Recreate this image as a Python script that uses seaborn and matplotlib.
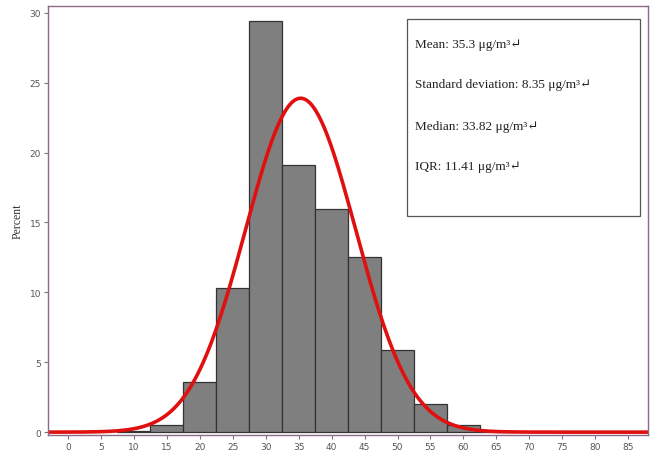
import numpy as np
import pandas as pd
import matplotlib
matplotlib.use("Agg")
import matplotlib.pyplot as plt
import seaborn as sns
from matplotlib.patches import Rectangle

# ==========================================
# Data
# ==========================================
bin_centers = [10, 15, 20, 25, 30, 35, 40, 45, 50, 55, 60, 65]
percents = [0.1, 0.5, 3.6, 10.3, 29.4, 19.1, 16.0, 12.5, 5.9, 2.0, 0.5, 0.05]
bin_edges = [7.5 + 5 * i for i in range(len(bin_centers) + 1)]

mean_val = 35.3
sd_val = 8.35
stats_lines = [
    "Mean: 35.3 \u03bcg/m\u00b3\u21b5",
    "Standard deviation: 8.35 \u03bcg/m\u00b3\u21b5",
    "Median: 33.82 \u03bcg/m\u00b3\u21b5",
    "IQR: 11.41 \u03bcg/m\u00b3\u21b5",
]

x_ticks = list(range(0, 90, 5))
y_ticks = list(range(0, 35, 5))

df = pd.DataFrame({"pm": bin_centers, "pct": percents})

# fitted normal curve, in percent per 5-unit bin
curve_x = np.linspace(-3, 88, 400)
curve_y = 100 * 5 / (sd_val * np.sqrt(2 * np.pi)) * np.exp(-0.5 * ((curve_x - mean_val) / sd_val) ** 2)
curve = pd.DataFrame({"x": curve_x, "y": curve_y})

# ==========================================
# Plot
# ==========================================
sns.set_style("white")
spine_col = "#8a6a88"

fig = plt.figure(figsize=(6.5, 4.56), dpi=100)
ax = fig.add_axes([0.074, 0.044, 0.923, 0.941])

sns.histplot(data=df, x="pm", weights="pct", bins=bin_edges, stat="count",
             color="#7f7f7f", edgecolor="#333333", linewidth=0.9, alpha=1, ax=ax)
sns.lineplot(data=curve, x="x", y="y", color="#e01010", linewidth=2.6, ax=ax)

ax.set_xlim(-3, 88)
ax.set_ylim(-0.2, 30.5)
ax.set_xticks(x_ticks)
ax.set_yticks(y_ticks)
ax.set_xlabel("")
ax.set_ylabel("Percent", family=["Liberation Serif"], fontsize=8.5, color="#333333")
ax.tick_params(axis="both", labelsize=6.5, colors="#555555", length=3, width=0.8,
               pad=2, color=spine_col, bottom=True, left=True)
for s in ax.spines.values():
    s.set_color(spine_col)
    s.set_linewidth(1.0)

# stats box
ax.add_patch(Rectangle((0.598, 0.510), 0.389, 0.460, transform=ax.transAxes,
                       fill=True, facecolor="white", edgecolor="#555555",
                       linewidth=0.9, zorder=5))
line_y = [0.912, 0.819, 0.719, 0.626]
for txt, yy in zip(stats_lines, line_y):
    ax.text(0.612, yy, txt, transform=ax.transAxes, fontsize=9.5,
            family=["Liberation Serif", "DejaVu Serif"], color="#222222",
            va="center", ha="left", zorder=6)

fig.savefig("out.png", dpi=100)
plt.close(fig)
